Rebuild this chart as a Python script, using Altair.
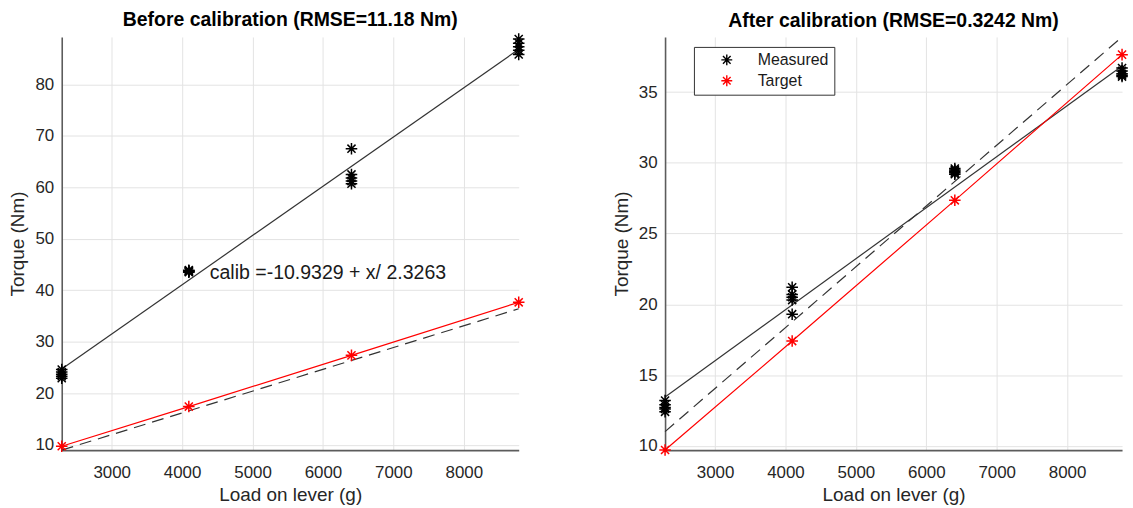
import altair as alt
import pandas as pd

# ---------------- data ----------------
loads = [2290, 4095, 6405, 8780]

before_2290 = [24.6, 24.1, 23.7, 23.3, 22.9]
before_4095 = [43.8, 43.6, 43.7, 43.5, 43.9]
before_6405 = [67.5, 62.5, 61.8, 61.2, 60.7]
before_8780 = [88.8, 88.0, 87.3, 86.6, 85.8]

after_2290 = [13.2, 12.9, 12.7, 12.6, 12.4]
after_4095 = [21.2, 20.7, 20.5, 20.3, 19.3]
after_6405 = [29.6, 29.5, 29.4, 29.3, 29.2]
after_8780 = [36.7, 36.5, 36.3, 36.2, 36.1]

target = [9.7, 17.4, 27.35, 37.65]

line_x = [2290, 8780]
before_fit = [24.7, 86.8]
before_dashed = [8.94, 36.4]
after_fit = [13.45, 36.85]
after_dashed = [11.0, 38.9]

x_domain = [2290, 8780]
before_y_domain = [8.94, 89.2]
after_y_domain = [9.69, 38.9]

x_ticks = [3000, 4000, 5000, 6000, 7000, 8000]
before_y_ticks = [10, 20, 30, 40, 50, 60, 70, 80]
after_y_ticks = [10, 15, 20, 25, 30, 35]

calib_text = "calib =-10.9329 + x/ 2.3263"
calib_pos = (4392, 43.4)

# ---------------- tables ----------------
def points_table(groups):
    rows = []
    for xv, vals in zip(loads, groups):
        for v in vals:
            rows.append({"load": xv, "torque": v, "series": "Measured"})
    for xv, v in zip(loads, target):
        rows.append({"load": xv, "torque": v, "series": "Target"})
    return pd.DataFrame(rows)

before_pts = points_table([before_2290, before_4095, before_6405, before_8780])
after_pts = points_table([after_2290, after_4095, after_6405, after_8780])

def line_table(xs, ys):
    return pd.DataFrame({"load": xs, "torque": ys})

FONT = "Liberation Sans"
ASTERISK = "M0,-1L0,1M-1,0L1,0M-0.7,-0.7L0.7,0.7M-0.7,0.7L0.7,-0.7"
W, H = 459, 415


def panel(pts, fit, dashed, ydom, yticks, title, legend, title_offset):
    xs = alt.Scale(domain=x_domain, nice=False, zero=False)
    ys = alt.Scale(domain=ydom, nice=False, zero=False)
    xenc = alt.X("load:Q", scale=xs, title="Load on lever (g)",
                 axis=alt.Axis(values=x_ticks, format="d"))
    yenc = alt.Y("torque:Q", scale=ys, title="Torque (Nm)",
                 axis=alt.Axis(values=yticks, format="d"))

    fit_line = alt.Chart(line_table(line_x, fit)).mark_line(
        color="#333333", strokeWidth=1.2).encode(x=xenc, y=yenc)
    dash_line = alt.Chart(line_table(line_x, dashed)).mark_line(
        color="#333333", strokeWidth=1.2, strokeDash=[12, 7]).encode(x=xenc, y=yenc)
    red_line = alt.Chart(line_table(loads, target)).mark_line(
        color="#ff0000", strokeWidth=1.2).encode(x=xenc, y=yenc)

    if legend:
        leg = alt.Legend(title=None, orient="none", legendX=29, legendY=10,
                         symbolType=ASTERISK, symbolSize=120, symbolStrokeWidth=1.4,
                         labelFontSize=16, labelFont=FONT, labelColor="#1a1a1a",
                         padding=5, rowPadding=3, symbolOffset=20, labelOffset=23,
                         fillColor="white", strokeColor="#333333")
    else:
        leg = None
    color = alt.Color("series:N",
                      scale=alt.Scale(domain=["Measured", "Target"], range=["#000000", "#ff0000"]),
                      legend=leg)
    points = alt.Chart(pts).mark_point(shape=ASTERISK, filled=False, size=135,
                                        strokeWidth=1.5, opacity=1).encode(
        x=xenc, y=yenc, color=color)

    layers = [fit_line, dash_line, red_line, points]
    if not legend:
        txt = alt.Chart(pd.DataFrame({"load": [calib_pos[0]], "torque": [calib_pos[1]],
                                      "t": [calib_text]})).mark_text(
            align="left", baseline="middle", fontSize=19.6, font=FONT, color="#1a1a1a"
        ).encode(x=xenc, y=yenc, text="t:N")
        layers.append(txt)

    return alt.layer(*layers).properties(
        width=W, height=H,
        title=alt.TitleParams(title, fontSize=19.5, fontWeight="bold", font=FONT,
                              color="#000000", frame="group", anchor="middle",
                              offset=title_offset),
    )


left = panel(before_pts, before_fit, before_dashed, before_y_domain, before_y_ticks,
             "Before calibration (RMSE=11.18 Nm)", False, 0)
right = panel(after_pts, after_fit, after_dashed, after_y_domain, after_y_ticks,
              "After calibration (RMSE=0.3242 Nm)", True, 3)

chart = alt.hconcat(left, right, spacing=85).resolve_scale(color="independent").resolve_legend(
    color="independent"
).properties(
    padding={"left": 9, "top": 8, "right": 2, "bottom": 2},
    background="white",
).configure_view(stroke=None).configure_axis(
    labelFont=FONT, titleFont=FONT, labelFontSize=17, titleFontSize=19,
    labelColor="#262626", titleColor="#262626", titleFontWeight="normal",
    gridColor="#e3e3e3", gridWidth=1, domainColor="#5c5c5c", domainWidth=1.6,
    ticks=False, tickSize=0,
).configure_axisY(labelPadding=8, titlePadding=7).configure_axisX(
    labelPadding=14, titlePadding=6)

chart.save("out.html", embed_options={"renderer": "svg", "actions": False})
